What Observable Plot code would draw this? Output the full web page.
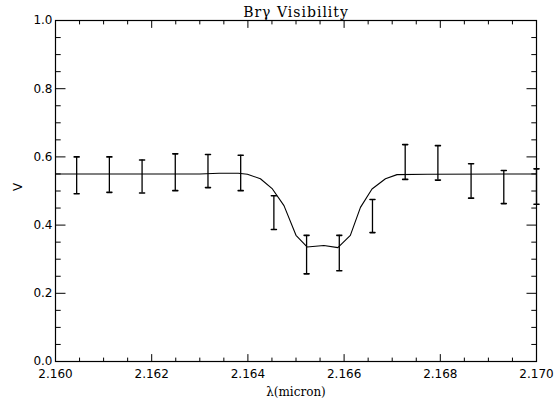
<!DOCTYPE html>
<html>
<head>
<meta charset="utf-8">
<script src="https://cdn.jsdelivr.net/npm/d3@7"></script>
<script src="https://cdn.jsdelivr.net/npm/@observablehq/plot@0.6"></script>
<style>
  html, body { margin: 0; padding: 0; background: #fff; }
</style>
</head>
<body>
<div id="chart"></div>
<script>
// ---- data ----
const title = "Brγ Visibility";
const xLabel = "λ(micron)";
const yLabel = "V";

// observed error bars
const obsX  = [2.16044, 2.16112, 2.16180, 2.16249, 2.16317, 2.16385, 2.16454, 2.16522,
               2.16590, 2.16659, 2.16727, 2.16795, 2.16864, 2.16932, 2.17000];
const obsLo = [0.492, 0.496, 0.494, 0.501, 0.510, 0.501, 0.387, 0.257,
               0.266, 0.378, 0.534, 0.532, 0.479, 0.463, 0.461];
const obsHi = [0.600, 0.600, 0.591, 0.609, 0.607, 0.605, 0.486, 0.370,
               0.370, 0.475, 0.636, 0.633, 0.580, 0.560, 0.565];

// model curve
const modelX = [2.16000, 2.16300, 2.16340, 2.16380, 2.16399, 2.16426, 2.16451, 2.16475,
                2.16500, 2.16523, 2.16558, 2.16587, 2.16613, 2.16634, 2.16658, 2.16686,
                2.16710, 2.16773, 2.17000];
const modelY = [0.550, 0.550, 0.552, 0.552, 0.549, 0.536, 0.506, 0.457,
                0.370, 0.336, 0.340, 0.334, 0.370, 0.452, 0.506, 0.536,
                0.548, 0.549, 0.550];

// axis ticks
const xMajor = [2.160, 2.162, 2.164, 2.166, 2.168, 2.170];
const xMinor = [2.1605, 2.1610, 2.1615, 2.1625, 2.1630, 2.1635, 2.1645, 2.1650, 2.1655,
                2.1665, 2.1670, 2.1675, 2.1685, 2.1690, 2.1695];
const yMajor = [0.0, 0.2, 0.4, 0.6, 0.8, 1.0];
const yMinor = [0.05, 0.10, 0.15, 0.25, 0.30, 0.35, 0.45, 0.50, 0.55, 0.65, 0.70, 0.75,
                0.85, 0.90, 0.95];

// ---- build ----
const obs = obsX.map((x, i) => ({x, lo: obsLo[i], hi: obsHi[i]}));
const model = modelX.map((x, i) => ({x, y: modelY[i]}));

const line = {draw(ctx, l) { ctx.moveTo(0, 0); ctx.lineTo(0, -l); }};
const cap = {draw(ctx, l) { ctx.moveTo(-l / 2, 0); ctx.lineTo(l / 2, 0); }};

const tickStyle = {stroke: "black", strokeWidth: 1, anchor: "start", shape: line};

const chart = Plot.plot({
  width: 560,
  height: 400,
  marginLeft: 55,
  marginRight: 24,
  marginTop: 20,
  marginBottom: 39,
  style: {fontFamily: "DejaVu Sans", fontSize: "12px", color: "black", background: "white"},
  x: {domain: [2.160, 2.170]},
  y: {domain: [0, 1]},
  marks: [
    Plot.axisX({ticks: xMajor, tickSize: 0, tickPadding: 8, tickFormat: d3.format(".3f"),
                label: null, fontSize: 12}),
    Plot.axisY({ticks: yMajor, tickSize: 0, tickPadding: 3, tickFormat: d3.format(".1f"),
                label: null, fontSize: 12}),
    // inward ticks: bottom, top, left, right
    Plot.vectorX(xMajor, {x: d => d, frameAnchor: "bottom", length: 7, rotate: 0, ...tickStyle}),
    Plot.vectorX(xMinor, {x: d => d, frameAnchor: "bottom", length: 3.5, rotate: 0, ...tickStyle}),
    Plot.vectorX(xMajor, {x: d => d, frameAnchor: "top", length: 7, rotate: 180, ...tickStyle}),
    Plot.vectorX(xMinor, {x: d => d, frameAnchor: "top", length: 3.5, rotate: 180, ...tickStyle}),
    Plot.vectorY(yMajor, {y: d => d, frameAnchor: "left", length: 9.6, rotate: 90, ...tickStyle}),
    Plot.vectorY(yMinor, {y: d => d, frameAnchor: "left", length: 4.8, rotate: 90, ...tickStyle}),
    Plot.vectorY(yMajor, {y: d => d, frameAnchor: "right", length: 9.6, rotate: -90, ...tickStyle}),
    Plot.vectorY(yMinor, {y: d => d, frameAnchor: "right", length: 4.8, rotate: -90, ...tickStyle}),
    Plot.frame({stroke: "black", strokeWidth: 1.2}),
    // model
    Plot.line(model, {x: "x", y: "y", stroke: "black", strokeWidth: 1.1}),
    // error bars
    Plot.ruleX(obs, {x: "x", y1: "lo", y2: "hi", stroke: "black", strokeWidth: 1.3}),
    Plot.vector(obs, {x: "x", y: "lo", length: 5, rotate: 0, anchor: "start", shape: cap,
                      stroke: "black", strokeWidth: 1.6}),
    Plot.vector(obs, {x: "x", y: "hi", length: 5, rotate: 0, anchor: "start", shape: cap,
                      stroke: "black", strokeWidth: 1.6}),
    // titles
    Plot.text([title], {text: d => d, frameAnchor: "top", dy: -8, lineAnchor: "middle",
                        fontFamily: "DejaVu Serif", fontSize: 14}),
    Plot.text([xLabel], {text: d => d, frameAnchor: "bottom", dy: 31, lineAnchor: "middle",
                         fontFamily: "DejaVu Serif", fontSize: 12}),
    Plot.text([yLabel], {text: d => d, frameAnchor: "left", dx: -37, rotate: -90,
                         lineAnchor: "middle", fontFamily: "DejaVu Sans", fontSize: 12})
  ]
});
// widen the title's letter spacing to match the reference's stroke font
d3.select(chart).selectAll("text")
  .filter(function () { return this.textContent === title; })
  .style("letter-spacing", "1px");
document.getElementById("chart").appendChild(chart);
</script>
</body>
</html>
